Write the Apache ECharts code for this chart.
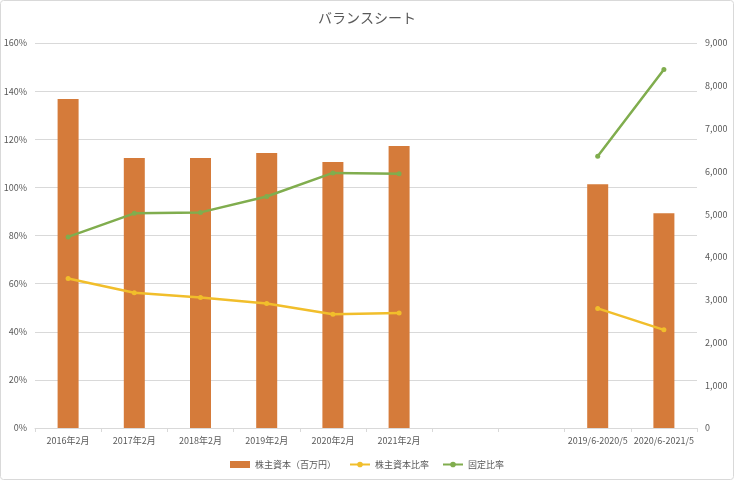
<!DOCTYPE html>
<html>
<head>
<meta charset="utf-8">
<script src="https://cdn.jsdelivr.net/npm/echarts@6/dist/echarts.min.js"></script>
<style>
html,body{margin:0;padding:0;background:#fff;}
#c{width:734px;height:480px;}
</style>
</head>
<body>
<div id="c"></div>
<script>
const categories = ['2016年2月','2017年2月','2018年2月','2019年2月','2020年2月','2021年2月','','','2019/6-2020/5','2020/6-2021/5'];
const equity = [7690, 6310, 6310, 6430, 6220, 6590, null, null, 5700, 5020];
const equityRatio = [62.1, 56.2, 54.2, 51.7, 47.3, 47.8, null, null, 49.7, 40.8];
const fixedRatio = [79.4, 89.2, 89.6, 96.2, 106.0, 105.7, null, null, 112.9, 149.0];
const leftTicks = [0, 20, 40, 60, 80, 100, 120, 140, 160];
const rightTicks = [0, 1000, 2000, 3000, 4000, 5000, 6000, 7000, 8000, 9000];

const font = '"Noto Sans CJK JP", "Noto Sans", sans-serif';
const chart = echarts.init(document.getElementById('c'));
chart.setOption({
  animation: false,
  textStyle: { fontFamily: font },
  title: {
    text: 'バランスシート', left: 'center', top: 6,
    textStyle: { fontFamily: font, fontSize: 14, fontWeight: 'normal', color: '#595959' }
  },
  graphic: [{
    type: 'rect', shape: { x: 0.5, y: 0.5, width: 733, height: 479, r: 3 },
    style: { fill: 'none', stroke: '#D9D9D9', lineWidth: 1 }, silent: true
  }],
  legend: {
    bottom: 6, left: 'center', itemGap: 13, itemWidth: 20, itemHeight: 7,
    textStyle: { fontFamily: font, fontSize: 9, color: '#595959' },
    data: [
      { name: '株主資本（百万円）', icon: 'rect' },
      { name: '株主資本比率' },
      { name: '固定比率' }
    ]
  },
  grid: { left: 35, right: 37, top: 43, bottom: 52, containLabel: false },
  xAxis: {
    type: 'category', data: categories, boundaryGap: true,
    axisLine: { lineStyle: { color: '#D9D9D9' } },
    axisTick: { show: true, length: 4, lineStyle: { color: '#D9D9D9' } },
    axisLabel: { color: '#595959', fontSize: 9, margin: 8, interval: 0, fontFamily: font }
  },
  yAxis: [
    {
      type: 'value', min: 0, max: 160, interval: 20,
      axisLine: { show: false }, axisTick: { show: false },
      splitLine: { lineStyle: { color: '#D9D9D9' } },
      axisLabel: { color: '#595959', fontSize: 9, margin: 8, formatter: v => v + '%', fontFamily: font }
    },
    {
      type: 'value', min: 0, max: 9000, interval: 1000,
      axisLine: { show: false }, axisTick: { show: false },
      splitLine: { show: false },
      axisLabel: { color: '#595959', fontSize: 9, margin: 8, formatter: v => v.toLocaleString('en-US'), fontFamily: font }
    }
  ],
  series: [
    {
      name: '株主資本（百万円）', type: 'bar', yAxisIndex: 1, data: equity,
      barWidth: 21, itemStyle: { color: '#D57B3A' }, z: 1
    },
    {
      name: '株主資本比率', type: 'line', yAxisIndex: 0, data: equityRatio,
      connectNulls: false, symbol: 'circle', symbolSize: 5,
      lineStyle: { color: '#F1BE2B', width: 2.5 }, itemStyle: { color: '#F1BE2B' }, z: 3
    },
    {
      name: '固定比率', type: 'line', yAxisIndex: 0, data: fixedRatio,
      connectNulls: false, symbol: 'circle', symbolSize: 5,
      lineStyle: { color: '#80AD4E', width: 2.5 }, itemStyle: { color: '#80AD4E' }, z: 3
    }
  ]
});
</script>
</body>
</html>
